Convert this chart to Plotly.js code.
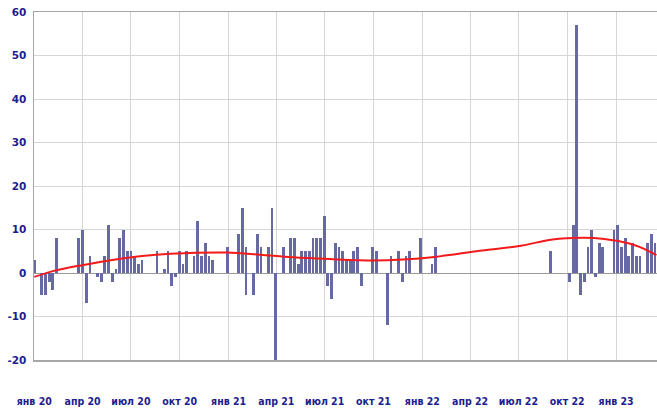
<!DOCTYPE html>
<html>
<head>
<meta charset="utf-8">
<script src="https://cdn.plot.ly/plotly-3.0.1.min.js"></script>
<style>
html,body{margin:0;padding:0;background:#fff;}
#chart{width:657px;height:408px;}
</style>
</head>
<body>
<div id="chart"></div>
<script>
const barDates = [
 '2020-01-01','2020-01-15','2020-01-22','2020-01-29','2020-02-05','2020-02-12',
 '2020-03-25','2020-04-01','2020-04-08','2020-04-15','2020-04-29','2020-05-06',
 '2020-05-13','2020-05-20','2020-05-27','2020-06-03','2020-06-10','2020-06-17',
 '2020-06-24','2020-07-01','2020-07-08','2020-07-15','2020-07-22','2020-08-19',
 '2020-09-02','2020-09-09','2020-09-16','2020-09-23','2020-09-30','2020-10-07',
 '2020-10-14','2020-10-28','2020-11-04','2020-11-11','2020-11-18','2020-11-25',
 '2020-12-02','2020-12-30','2021-01-20','2021-01-27','2021-02-03','2021-02-03',
 '2021-02-17','2021-02-24','2021-03-03','2021-03-17','2021-03-24','2021-03-31',
 '2021-04-14','2021-04-28','2021-05-05','2021-05-12','2021-05-19','2021-05-26',
 '2021-06-02','2021-06-09','2021-06-16','2021-06-23','2021-06-30','2021-07-07',
 '2021-07-14','2021-07-21','2021-07-28','2021-08-04','2021-08-11','2021-08-18',
 '2021-08-25','2021-09-01','2021-09-08','2021-09-29','2021-10-06','2021-10-27',
 '2021-11-03','2021-11-17','2021-11-24','2021-12-01','2021-12-08','2021-12-29',
 '2022-01-19','2022-01-26','2022-08-31','2022-10-05','2022-10-12','2022-10-19',
 '2022-10-26','2022-11-02','2022-11-09','2022-11-16','2022-11-23','2022-11-30',
 '2022-12-07','2022-12-28','2023-01-04','2023-01-11','2023-01-18','2023-01-25',
 '2023-02-01','2023-02-08','2023-02-15','2023-03-01','2023-03-08','2023-03-15'
];
const barValues = [
 3,-5,-5,-2,-4,8,
 8,10,-7,4,-1,-2,
 4,11,-2,1,8,10,
 5,5,4,2,3,5,
 1,5,-3,-1,5,2,
 5,4,12,4,7,4,
 3,6,9,15,6,-5,
 -5,9,6,6,15,-20,
 6,8,8,2,5,5,
 5,8,8,8,13,-3,
 -6,7,6,5,3,3,
 5,6,-3,6,5,-12,
 4,5,-2,4,5,8,
 2,6,5,-2,11,57,
 -5,-2,6,10,-1,7,
 6,10,11,6,8,4,
 7,4,4,7,9,7
];
const trendDates = [
 '2020-01-01','2020-02-11','2020-03-31','2020-05-27','2020-07-22','2020-09-13',
 '2020-12-29','2021-03-01','2021-05-02','2021-07-11','2021-09-30','2021-11-25',
 '2022-01-28','2022-04-19','2022-07-03','2022-09-03','2022-10-30','2022-12-06',
 '2023-01-26','2023-02-14','2023-03-18'
];
const trendValues = [
 -0.9,0.6,1.8,3.0,3.9,4.4,
 4.7,4.2,3.6,3.2,2.9,3.1,
 3.75,5.1,6.2,7.7,8.1,7.9,
 6.8,6.0,4.1
];
const tickDates = [
 '2020-01-01','2020-04-01','2020-07-01','2020-10-01',
 '2021-01-01','2021-04-01','2021-07-01','2021-10-01',
 '2022-01-01','2022-04-01','2022-07-01','2022-10-01','2023-01-01'
];
const tickLabels = [
 'янв 20','апр 20','июл 20','окт 20',
 'янв 21','апр 21','июл 21','окт 21',
 'янв 22','апр 22','июл 22','окт 22','янв 23'
];
const yTicks = [-20,-10,0,10,20,30,40,50,60];

const DAY = 86400000;
const yFont = {family:'DejaVu Sans', size:10.5, color:'#1d1d8f', weight:'bold'};
const xFont = {family:'DejaVu Sans Condensed, DejaVu Sans', size:10.5, color:'#1d1d8f', weight:'bold'};

const traces = [
 {
  type:'bar', x:barDates, y:barValues,
  width: barDates.map(()=>5.2*DAY),
  marker:{color:'#6769a2', line:{width:0}},
  hoverinfo:'x+y'
 },
 {
  type:'scatter', mode:'lines', x:trendDates, y:trendValues,
  line:{color:'#f21a1a', width:2, shape:'spline', smoothing:1},
  hoverinfo:'skip'
 }
];

const layout = {
 width:657, height:408,
 margin:{l:34, r:0, t:12, b:48, pad:0},
 paper_bgcolor:'#ffffff', plot_bgcolor:'#ffffff',
 showlegend:false,
 bargap:0,
 xaxis:{
  type:'date',
  range:['2019-12-31 12:00','2023-03-19'],
  tickmode:'array', tickvals:tickDates, ticktext:tickLabels,
  tickangle:0,
  showgrid:true, gridcolor:'#d6d6d6', gridwidth:1,
  showline:true, linecolor:'#a6a6a6', linewidth:1.5, mirror:true,
  ticks:'', tickfont:xFont,
  ticklabelstandoff:31,
  zeroline:false, fixedrange:true
 },
 yaxis:{
  range:[-20,60],
  tickmode:'array', tickvals:yTicks, ticktext:yTicks.map(String),
  showgrid:true, gridcolor:'#d6d6d6', gridwidth:1,
  showline:true, linecolor:'#a6a6a6', linewidth:1.5, mirror:true,
  zeroline:true, zerolinecolor:'#9a9a9a', zerolinewidth:1,
  ticks:'', tickfont:yFont,
  ticklabelstandoff:4,
  fixedrange:true
 }
};

Plotly.newPlot('chart', traces, layout, {displayModeBar:false, staticPlot:true});
</script>
</body>
</html>
